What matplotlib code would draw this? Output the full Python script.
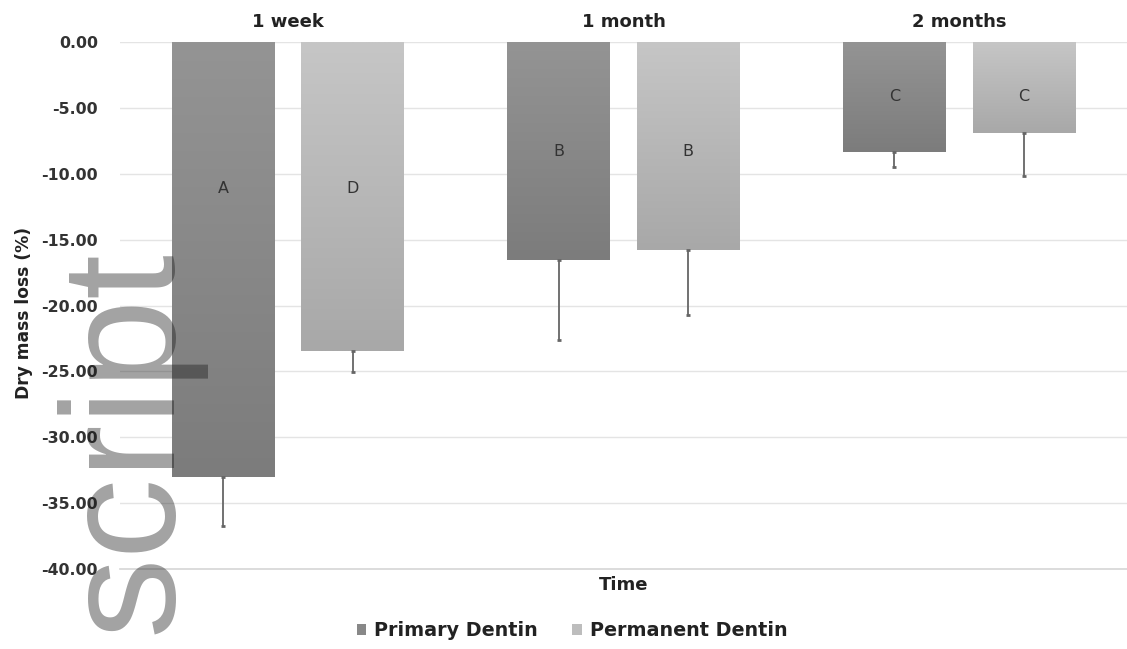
import matplotlib
matplotlib.use("Agg")
import matplotlib.pyplot as plt
import numpy as np
from matplotlib.patches import Patch

plt.rcParams['font.family'] = ['DejaVu Sans']

# ---- data ----
categories = ["1 week", "1 month", "2 months"]
series_names = ["Primary Dentin", "Permanent Dentin"]
primary = [-33.0, -16.55, -8.33]
permanent = [-23.45, -15.8, -6.88]
primary_err = [3.7, 6.05, 1.13]
permanent_err = [1.6, 4.9, 3.3]
primary_letters = ["A", "B", "C"]
permanent_letters = ["D", "B", "C"]
letter_y = [-11.1, -8.33, -4.15]
yticks = [0, -5, -10, -15, -20, -25, -30, -35, -40]
ytick_labels = ["0.00", "-5.00", "-10.00", "-15.00", "-20.00", "-25.00", "-30.00", "-35.00", "-40.00"]

W, H = 1127, 649
fig = plt.figure(figsize=(W / 100, H / 100), dpi=100)
ax = fig.add_axes([120 / W, (H - 569) / H, (W - 120) / W, (569 - 42) / H])
ax.set_xlim(-0.5, 2.5)
ax.set_ylim(-40, 0)

x = np.arange(len(categories))
bw = 0.306
off = 0.193

grad_cols = {
    0: ("#949494", "#7c7c7c"),
    1: ("#c6c6c6", "#a8a8a8"),
}

def gradient_bars(bars, colors):
    top, bot = colors
    c1 = np.array(matplotlib.colors.to_rgb(top))
    c2 = np.array(matplotlib.colors.to_rgb(bot))
    t = np.linspace(0, 1, 256)[:, None]
    img = (c1[None, :] * (1 - t) + c2[None, :] * t)[:, None, :]
    for b in bars:
        x0, y0 = b.get_x(), b.get_y()
        w, h = b.get_width(), b.get_height()
        ylo, yhi = min(y0, y0 + h), max(y0, y0 + h)
        im = ax.imshow(img, extent=[x0, x0 + w, ylo, yhi], origin='upper',
                       aspect='auto', zorder=2)
        im.set_clip_path(b)

# grid lines behind bars
for yt in yticks[:-1]:
    ax.axhline(yt, color="#e4e4e4", linewidth=1, zorder=0.5)

b1 = ax.bar(x - off, primary, bw, color="#888888", zorder=2, linewidth=0)
b2 = ax.bar(x + off, permanent, bw, color="#b8b8b8", zorder=2, linewidth=0)
gradient_bars(b1, grad_cols[0])
gradient_bars(b2, grad_cols[1])

ax.errorbar(x - off, primary, yerr=[primary_err, [0] * 3], fmt='none',
            ecolor="#666666", elinewidth=1.3, capsize=1.5, capthick=2, zorder=3)
ax.errorbar(x + off, permanent, yerr=[permanent_err, [0] * 3], fmt='none',
            ecolor="#666666", elinewidth=1.3, capsize=1.5, capthick=2, zorder=3)

for i in range(len(categories)):
    ax.text(x[i] - off, letter_y[i], primary_letters[i], ha='center', va='center',
            fontsize=11.5, color="#333333", zorder=4)
    ax.text(x[i] + off, letter_y[i], permanent_letters[i], ha='center', va='center',
            fontsize=11.5, color="#333333", zorder=4)

ax.set_yticks(yticks)
ax.set_yticklabels(ytick_labels, fontsize=11.3, fontweight='bold', color="#333333")
ax.tick_params(axis='y', length=0, pad=16)

ax.xaxis.tick_top()
ax.set_xticks(x)
ax.set_xticklabels(categories, fontsize=13, fontweight='bold', color="#222222")
ax.tick_params(axis='x', length=0, pad=8)
ax.xaxis.set_label_position('bottom')
ax.set_xlabel("Time", fontsize=13, fontweight='bold', color="#222222", labelpad=5)
ax.set_ylabel("Dry mass loss (%)", fontsize=12.3, fontweight='bold', color="#222222", labelpad=6)
ax.yaxis.label.set_position((0, (H - 313 - (H - 569)) / (569 - 42)))

for s in ["top", "right", "left"]:
    ax.spines[s].set_visible(False)
ax.spines["bottom"].set_color("#d6d6d6")
ax.spines["bottom"].set_linewidth(1.2)

handles = [Patch(facecolor="#888888", edgecolor='none'),
           Patch(facecolor="#bdbdbd", edgecolor='none')]
leg = fig.legend(handles, series_names, loc='center', bbox_to_anchor=(572 / W, 1 - 631 / H),
                 ncol=2, frameon=False, handlelength=0.5, handleheight=0.5,
                 handletextpad=0.4, columnspacing=1.8,
                 prop={'weight': 'bold', 'size': 13.8})
for t in leg.get_texts():
    t.set_color("#222222")

# watermark
fig.text(129 / W, 1 - 442 / H, "script", rotation=90, ha='center', va='center',
         fontsize=116, family=['Liberation Sans'], color="#181818", alpha=0.4, zorder=10)

fig.savefig("out.png", dpi=100)
